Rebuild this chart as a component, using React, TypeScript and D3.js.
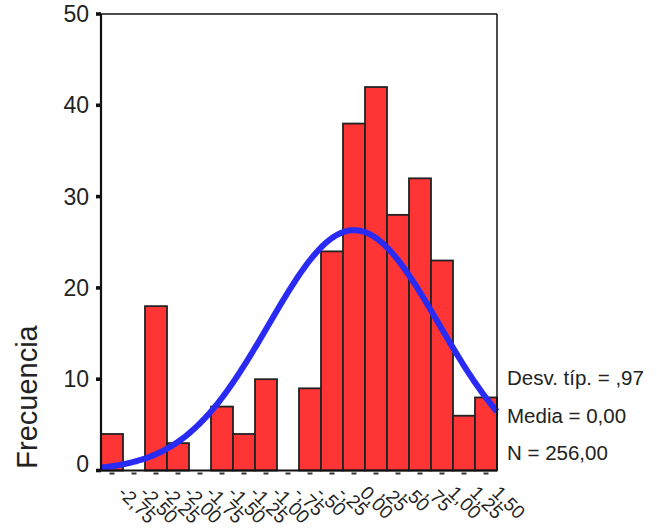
// App.tsx
import React from 'react'
import * as d3 from 'd3'

// histogram bins (centre of each 0,25-wide bin) and counts
const binCenters = [-2.75, -2.5, -2.25, -2.0, -1.75, -1.5, -1.25, -1.0, -0.75, -0.5, -0.25, 0.0, 0.25, 0.5, 0.75, 1.0, 1.25, 1.5]
const binLabels = ['-2,75', '-2,50', '-2,25', '-2,00', '-1,75', '-1,50', '-1,25', '-1,00', '-,75', '-,50', '-,25', '0,00', ',25', ',50', ',75', '1,00', '1,25', '1,50']
const counts = [4, 0, 18, 3, 0, 7, 4, 10, 0, 9, 24, 38, 42, 28, 32, 23, 6, 8]
const yTicks = [0, 10, 20, 30, 40, 50]
const statLines = ['Desv. típ. = ,97', 'Media = 0,00', 'N = 256,00']

// summary stats shown in the legend (used for the fitted normal curve)
const mean = 0
const sd = 0.97
const n = 256
const binWidth = 0.25

const W = 657
const H = 531
const font = '"Liberation Sans", Arial, Helvetica, sans-serif'

export default function App() {
  const x = d3.scaleLinear().domain([-2.875, 1.625]).range([101, 497])
  const y = d3.scaleLinear().domain([0, 50]).range([470.5, 14])

  // normal curve fitted with mean / sd / N
  const curveXs = d3.range(-2.875, 1.625 + 1e-9, 0.02)
  const density = (v: number) =>
    (n * binWidth) / (sd * Math.sqrt(2 * Math.PI)) * Math.exp(-((v - mean) ** 2) / (2 * sd * sd))
  const line = d3
    .line<number>()
    .x(d => x(d))
    .y(d => y(density(d)))
    .curve(d3.curveLinear)

  const [x0, x1] = x.range()
  const [y0, y1] = y.range()

  return (
    <svg
      width={W}
      height={H}
      style={{ position: 'absolute', left: 0, top: 0, background: '#fff', fontFamily: font }}
    >
      {/* bars */}
      {counts.map((c, i) =>
        c > 0 ? (
          <rect
            key={i}
            x={x(binCenters[i] - binWidth / 2)}
            y={y(c)}
            width={x(binCenters[i] + binWidth / 2) - x(binCenters[i] - binWidth / 2)}
            height={y(0) - y(c)}
            fill="#ff3535"
            stroke="#222"
            strokeWidth={1.8}
          />
        ) : null
      )}

      {/* normal curve */}
      <path d={line(curveXs) || ''} fill="none" stroke="#2a2af5" strokeWidth={6} strokeLinejoin="round" />

      {/* frame */}
      <line x1={x0} x2={x1} y1={y1} y2={y1} stroke="#111" strokeWidth={1.5} />
      <line x1={x1} x2={x1} y1={y1} y2={y0} stroke="#111" strokeWidth={1.5} />
      <line x1={x0} x2={x1} y1={y0} y2={y0} stroke="#111" strokeWidth={2.2} />
      <line x1={x0} x2={x0} y1={y1} y2={y0} stroke="#111" strokeWidth={2.2} />

      {/* y ticks + labels */}
      {yTicks.map(t => (
        <g key={t}>
          <rect x={96} y={y(t) - 1.8} width={5} height={3.6} fill="#111" />
          <text
            x={89}
            y={t === 0 ? y(t) - 7 : y(t)}
            textAnchor="end"
            dominantBaseline="central"
            fontSize={23}
            fill="#222"
          >
            {t}
          </text>
        </g>
      ))}

      {/* x tick dashes + rotated labels */}
      {binCenters.map((b, i) => (
        <g key={i}>
          <rect x={x(b) - 2.5} y={472.5} width={5} height={2} fill="#333" />
          <text
            transform={`translate(${x(b) + 5},${494}) rotate(45)`}
            textAnchor="start"
            fontSize={19}
            fill="#222"
          >
            {binLabels[i]}
          </text>
        </g>
      ))}

      {/* y title */}
      <text transform="translate(37,397) rotate(-90)" textAnchor="middle" fontSize={29} fill="#222">
        Frecuencia
      </text>

      {/* stats */}
      {statLines.map((s, i) => (
        <text key={i} x={507} y={[385, 423, 460][i]} fontSize={20.5} fill="#222">
          {s}
        </text>
      ))}
    </svg>
  )
}
